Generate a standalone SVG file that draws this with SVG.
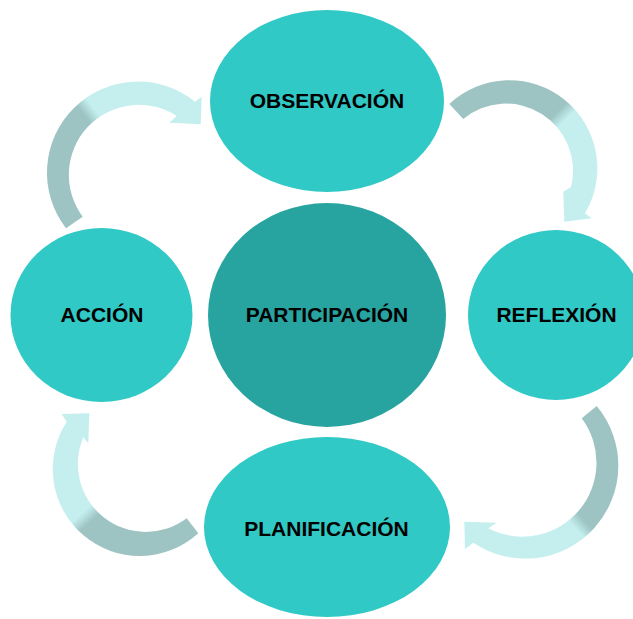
<svg xmlns="http://www.w3.org/2000/svg" width="633" height="619" viewBox="0 0 633 619">
  <style>
    .stage { fill: #30C9C6; }
    .core { fill: #27A4A0; }
    .label { font-family: "Liberation Sans", Arial, sans-serif; font-weight: bold; font-size: 21px; fill: #000; text-anchor: middle; }
  </style>
  <defs>
    <!-- each curved arrow fades from a grey-teal tail to a pale aqua head -->
    <linearGradient id="gTR" gradientUnits="userSpaceOnUse" x1="441.9" y1="94" x2="583.3" y2="235.4">
      <stop offset="0" stop-color="#9DC3C3"/>
      <stop offset="0.47" stop-color="#9DC3C3"/>
      <stop offset="0.53" stop-color="#C4EFEE"/>
      <stop offset="1" stop-color="#C4EFEE"/>
    </linearGradient>
    <linearGradient id="gBR" gradientUnits="userSpaceOnUse" x1="601.6" y1="399.1" x2="453" y2="532.9">
      <stop offset="0" stop-color="#9DC3C3"/>
      <stop offset="0.47" stop-color="#9DC3C3"/>
      <stop offset="0.53" stop-color="#C4EFEE"/>
      <stop offset="1" stop-color="#C4EFEE"/>
    </linearGradient>
    <linearGradient id="gBL" gradientUnits="userSpaceOnUse" x1="206.9" y1="543.3" x2="73.1" y2="395.1">
      <stop offset="0" stop-color="#9DC3C3"/>
      <stop offset="0.47" stop-color="#9DC3C3"/>
      <stop offset="0.53" stop-color="#C4EFEE"/>
      <stop offset="1" stop-color="#C4EFEE"/>
    </linearGradient>
    <linearGradient id="gTL" gradientUnits="userSpaceOnUse" x1="58.2" y1="234.6" x2="215.8" y2="111.4">
      <stop offset="0" stop-color="#9DC3C3"/>
      <stop offset="0.47" stop-color="#9DC3C3"/>
      <stop offset="0.53" stop-color="#C4EFEE"/>
      <stop offset="1" stop-color="#C4EFEE"/>
    </linearGradient>
  </defs>

  <rect width="633" height="619" fill="#FFFFFF"/>

  <g id="connectors">
    <!-- observación to reflexión -->
    <path id="arrow-obs-ref" fill="url(#gTR)" d="M449.3,104 A88,88 0 0,1 585,213.3 L591.7,218.3 L564.3,221.7 L563.3,191.7 L571,187 A67,67 0 0,0 463.3,119 Z"/>
    <!-- reflexión to planificación -->
    <path id="arrow-ref-pla" fill="url(#gBR)" d="M596.7,406 A93,93 0 0,1 473.3,542.7 L465,549.3 L464.3,521.7 L496.7,522.7 L488.3,528.3 A74,74 0 0,0 581.7,418.3 Z"/>
    <!-- planificación to acción -->
    <path id="arrow-pla-acc" fill="url(#gBL)" d="M198.3,533.3 A87,87 0 0,1 66.7,421.7 L61.7,414 L89.3,413.3 L88.3,443.3 L83.3,437.3 A68,68 0 0,0 186.7,518.3 Z"/>
    <!-- acción to observación -->
    <path id="arrow-acc-obs" fill="url(#gTL)" d="M66,228.3 A91,91 0 0,1 195,101.7 L201.7,96.7 L200.7,124.3 L169.3,122.7 L176.7,116 A70,70 0 0,0 82.7,216.7 Z"/>
  </g>

  <g id="node-observacion">
    <ellipse class="stage" cx="327" cy="101" rx="117" ry="91"/>
    <text class="label" x="327" y="107.5">OBSERVACIÓN</text>
  </g>
  <g id="node-reflexion">
    <ellipse class="stage" cx="556" cy="315" rx="88" ry="85"/>
    <text class="label" x="556.5" y="322">REFLEXIÓN</text>
  </g>
  <g id="node-planificacion">
    <ellipse class="stage" cx="327" cy="527" rx="123" ry="90"/>
    <text class="label" x="326.5" y="536">PLANIFICACIÓN</text>
  </g>
  <g id="node-accion">
    <ellipse class="stage" cx="101.5" cy="315" rx="91" ry="87"/>
    <text class="label" x="102" y="322">ACCIÓN</text>
  </g>
  <g id="node-participacion">
    <ellipse class="core" cx="327" cy="315" rx="119" ry="112"/>
    <text class="label" x="327" y="322">PARTICIPACIÓN</text>
  </g>
</svg>
